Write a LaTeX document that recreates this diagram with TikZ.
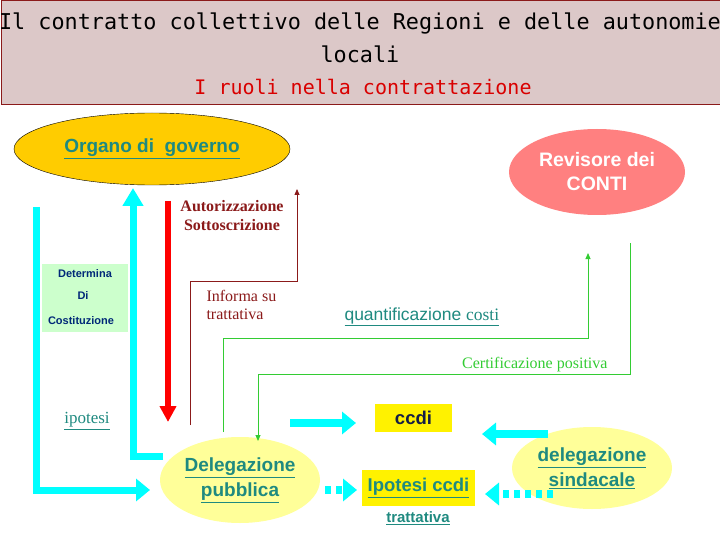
\documentclass[tikz,border=0pt]{standalone}
\usepackage{fontspec}
\setmainfont{Liberation Serif}
\setsansfont{Liberation Sans}
\setmonofont{DejaVu Sans Mono}
\usetikzlibrary{arrows.meta,shapes.geometric}
\definecolor{teal2}{HTML}{1F8A80}
\definecolor{dred}{HTML}{8B1A1A}
\definecolor{gr}{HTML}{33CC33}
\definecolor{cy}{HTML}{00FFFF}
\definecolor{lyel}{HTML}{FFFF99}
\begin{document}
\begin{tikzpicture}[x=1pt,y=-1pt,
  ell/.style={ellipse,inner sep=0pt},
  ulink/.style={font=\sffamily\bfseries,text=teal2},
  cyarrow/.style={cy,line width=8pt,-{Triangle[length=14pt,width=22pt]}},
  cydot/.style={cy,line width=8pt,dash pattern=on 6pt off 5pt,-{Triangle[length=14pt,width=22pt]}},
  thinred/.style={dred,line width=0.8pt},
  thingr/.style={gr,line width=1pt}]
\useasboundingbox (0,0) rectangle (720,540);
\fill[white] (0,0) rectangle (720,540);
% title
\node[draw=dred,fill={rgb,255:red,220;green,200;blue,200},line width=1pt,minimum width=719pt,minimum height=104pt,anchor=north west,inner sep=0pt] (title) at (0.5,0.5) {};
\node[font=\ttfamily\fontsize{21.8}{33}\selectfont,align=center] (t1) at (360,38) {Il contratto collettivo delle Regioni e delle autonomie\\locali};
\node[font=\ttfamily\fontsize{20}{22}\selectfont,text=red!85!black] (t2) at (363,87) {I ruoli nella contrattazione};
% ellipses
\node[ell,draw=black,fill={rgb,255:red,255;green,204;blue,0},minimum width=276pt,minimum height=72pt] (org) at (152,149) {};
\node[ulink,font=\sffamily\bfseries\fontsize{19}{22}\selectfont] (orgt) at (152,149) {\underline{Organo di\ \ governo}};
\node[ell,fill={rgb,255:red,255;green,128;blue,128},minimum width=176pt,minimum height=86pt,align=center,text=white,font=\sffamily\bfseries\fontsize{19.5}{24}\selectfont] (rev) at (597,172) {Revisore dei\\CONTI};
\node[ell,fill=lyel,minimum width=160pt,minimum height=86pt,align=center,ulink,font=\sffamily\bfseries\fontsize{19}{25}\selectfont] (dp) at (240,480) {\underline{Delegazione}\\\underline{pubblica}};
\node[ell,fill=lyel,minimum width=160pt,minimum height=82pt,align=center,ulink,font=\sffamily\bfseries\fontsize{19}{25}\selectfont] (ds) at (592,468) {\underline{delegazione}\\\underline{sindacale}};
% boxes
\node[fill=yellow,minimum width=77pt,minimum height=28pt,inner sep=0pt,font=\sffamily\bfseries\fontsize{18.5}{20}\selectfont,text={rgb,255:red,20;green,30;blue,70}] (ccdi) at (413.5,418) {ccdi};
\node[fill=yellow,minimum width=113pt,minimum height=36pt,inner sep=0pt,ulink,font=\sffamily\bfseries\fontsize{18.5}{20}\selectfont] (ipc) at (418.5,488) {\underline{Ipotesi ccdi}};
\node[ulink,font=\sffamily\bfseries\fontsize{15}{16}\selectfont] (tratt) at (418,518) {\underline{trattativa}};
\node[fill={rgb,255:red,204;green,255;blue,204},minimum width=86pt,minimum height=68pt,inner sep=0pt] (det) at (85,298) {};
\node[font=\sffamily\bfseries\fontsize{11}{13}\selectfont,text={rgb,255:red,0;green,40;blue,120}] (d1) at (85,274) {Determina};
\node[font=\sffamily\bfseries\fontsize{11}{13}\selectfont,text={rgb,255:red,0;green,40;blue,120}] (d2) at (83,296) {Di};
\node[font=\sffamily\bfseries\fontsize{11}{13}\selectfont,text={rgb,255:red,0;green,40;blue,120}] (d3) at (81,321) {Costituzione};
% labels
\node[font=\bfseries\fontsize{16}{19}\selectfont,text=dred,align=center] (aut) at (232,216) {Autorizzazione\\Sottoscrizione};
\node[font=\fontsize{16}{18}\selectfont,text=dred,align=left,anchor=west] (inf) at (203,305) {Informa su\\trattativa};
\node[font=\sffamily\fontsize{17.5}{19}\selectfont,text=teal2,anchor=west] (quant) at (341,317) {\underline{quantificazione {\rmfamily costi}}};
\node[font=\fontsize{16}{17}\selectfont,text=gr,anchor=east] (cert) at (611,365) {Certificazione positiva};
\node[font=\fontsize{17}{18}\selectfont,text=teal2] (ipo) at (87,421) {\underline{ipotesi}};
% coordinates
\coordinate (a1) at (36,207); \coordinate (a2) at (36,490); \coordinate (a3) at (150,490);
\coordinate (b1) at (163,456); \coordinate (b2) at (133,456); \coordinate (b3) at (133,188);
\coordinate (r1) at (168,201); \coordinate (r2) at (168,422);
\coordinate (c1) at (190,425); \coordinate (c2) at (190,281); \coordinate (c3) at (297,281); \coordinate (c4) at (297,189);
\coordinate (g1) at (223,432); \coordinate (g2) at (223,338); \coordinate (g3) at (588,338); \coordinate (g4) at (588,253);
\coordinate (h1) at (630,243); \coordinate (h2) at (630,374); \coordinate (h3) at (258,374); \coordinate (h4) at (258,441);
\coordinate (e1) at (290,423); \coordinate (e2) at (356,423);
\coordinate (f1) at (548,434); \coordinate (f2) at (482,434);
\coordinate (k1) at (325,490); \coordinate (k2) at (357,490);
\coordinate (m1) at (553,494); \coordinate (m2) at (485,494);
% connectors
\draw[cy,line width=7pt,-{Triangle[length=14pt,width=22pt]}] (a1) -- (a2) -- (a3);
\draw[cy,line width=7pt,-{Triangle[length=18pt,width=20pt]}] (b1) -- (b2) -- (b3);
\draw[red,line width=6pt,-{Triangle[length=16pt,width=16pt]}] (r1) -- (r2);
\draw[thinred,-{Triangle[length=6pt,width=5pt]}] (c1) -- (c2) -- (c3) -- (c4);
\draw[thingr,-{Triangle[length=6pt,width=5pt]}] (g1) -- (g2) -- (g3) -- (g4);
\draw[thingr,-{Triangle[length=6pt,width=5pt]}] (h1) -- (h2) -- (h3) -- (h4);
\draw[cyarrow] (e1) -- (e2);
\draw[cyarrow] (f1) -- (f2);
\draw[cydot] (k1) -- (k2);
\draw[cydot] (m1) -- (m2);
\end{tikzpicture}
\end{document}
